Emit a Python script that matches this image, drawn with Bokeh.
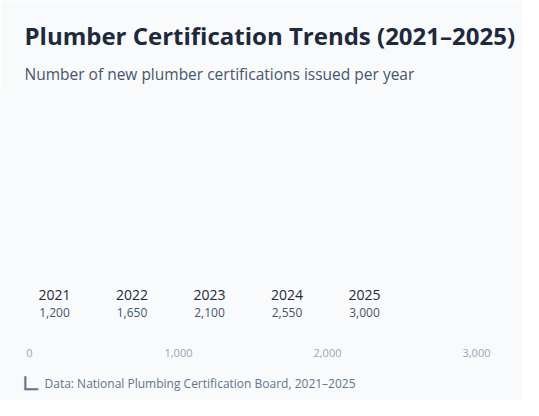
from bokeh.plotting import figure
from bokeh.models import Range1d, FixedTicker, NumeralTickFormatter, Title, Label
from bokeh.core.properties import value
from bokeh.embed import file_html
from bokeh.resources import INLINE

# ---- data ----
years = ["2021", "2022", "2023", "2024", "2025"]
certifications = [1200, 1650, 2100, 2550, 3000]
axis_ticks = [0, 1000, 2000, 3000]

title_text = "Plumber Certification Trends (2021\u20132025)"
subtitle_text = "Number of new plumber certifications issued per year"
footer_text = "Data: National Plumbing Certification Board, 2021\u20132025"
footer_icon = "\u221f"

FONT = "Open Sans"
BG = "#f8fafc"

W, H, TOP = 523, 400, 90
# value scale: 0 -> 29px, 3000 -> 476px across a full-width frame
px_per_unit = (476 - 29) / 3000
x_start = -29 / px_per_unit
x_end = 3000 + (W - 476) / px_per_unit

p = figure(width=W, height=H, output_backend="svg", toolbar_location=None,
           x_range=Range1d(x_start, x_end), y_range=Range1d(0, H - TOP), title=None,
           min_border_left=0, min_border_right=0, min_border_top=TOP,
           min_border_bottom=0)
p.background_fill_color = BG
p.border_fill_color = BG
p.outline_line_color = None
p.grid.visible = False
p.yaxis.visible = False

ax = p.xaxis[0]
ax.fixed_location = 63.5
ax.ticker = FixedTicker(ticks=axis_ticks)
ax.formatter = NumeralTickFormatter(format="0,0")
ax.axis_line_color = None
ax.major_tick_line_color = None
ax.minor_tick_line_color = None
ax.major_label_text_font = FONT
ax.major_label_text_font_size = "11px"
ax.major_label_text_color = "#9aa5b6"
ax.major_label_standoff = 6

# index range for the evenly spaced year columns (77.5px apart, first at 54px)
col_px = 77.5
p.extra_x_ranges = {"idx": Range1d(-54 / col_px, (W - 54) / col_px)}
idx = list(range(len(years)))

p.text(x=idx, y=[106] * len(years), text=years, x_range_name="idx",
       text_font=value(FONT), text_font_size="14px", text_color="#1e293b",
       text_align="center", text_baseline="middle")
p.text(x=idx, y=[88] * len(years), text=[f"{v:,}" for v in certifications],
       x_range_name="idx", text_font=value(FONT), text_font_size="12px",
       text_color="#475569", text_align="center", text_baseline="middle")

sub = Title(text=subtitle_text, text_font=FONT, text_font_size="15.5px",
            text_font_style="normal", text_color="#475569", align="left",
            offset=24, standoff=11)
p.add_layout(sub, "above")
main = Title(text=title_text, text_font=FONT, text_font_size="24px",
             text_font_style="bold", text_color="#1e293b", align="left",
             offset=24, standoff=7)
p.add_layout(main, "above")

icon = Label(x=(20.5 - 29) / px_per_unit, y=16, text=footer_icon,
             text_font="DejaVu Sans", text_font_size="25px", text_color="#64748b",
             text_align="left", text_baseline="middle")
p.add_layout(icon)
foot = Label(x=(44 - 29) / px_per_unit, y=17, text=footer_text,
             text_font=FONT, text_font_size="12px", text_color="#64748b",
             text_align="left", text_baseline="middle")
p.add_layout(foot)

open("out.html", "w").write(file_html(p, INLINE))
